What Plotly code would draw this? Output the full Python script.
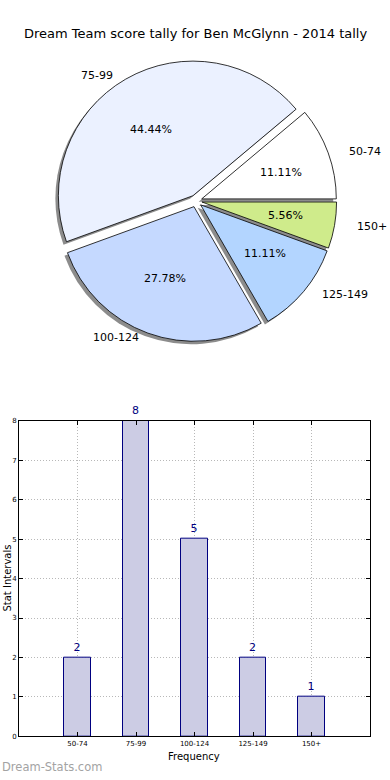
import math
import plotly.graph_objects as go

# ---- data ----
categories = ["50-74", "75-99", "100-124", "125-149", "150+"]
counts = [2, 8, 5, 2, 1]
pie_colors = ["#ffffff", "#ebf1ff", "#c5d9ff", "#b3d5ff", "#cfeb8b"]
title_text = "Dream Team score tally for Ben McGlynn - 2014 tally"

W, H = 390, 780
FONT = "DejaVu Sans"

# pie geometry (pixels)
cx, cy = 196, 199
R = 136
pull = 0.045
half = R * (1 + pull)

def px2paper(x, y):
    return x / W, 1 - y / H

dom_x = [(cx - half) / W, (cx + half) / W]
dom_y = [1 - (cy + half) / H, 1 - (cy - half) / H]

total = sum(counts)
# first slice spans 0deg -> its angle counterclockwise (matplotlib style);
# plotly rotation marks the counterclockwise edge of the first slice, clockwise from 12 o'clock
rot = 90 - 360 * counts[0] / total

fig = go.Figure()

# shadow pie
sdx, sdy = -3, 3
fig.add_trace(go.Pie(
    labels=categories, values=counts, sort=False, direction="counterclockwise",
    rotation=rot, pull=[pull] * len(counts), textinfo="none", hoverinfo="skip",
    marker=dict(colors=["#8c8c8c"] * len(counts), line=dict(width=0)),
    domain=dict(x=[dom_x[0] + sdx / W, dom_x[1] + sdx / W],
                y=[dom_y[0] - sdy / H, dom_y[1] - sdy / H]),
    showlegend=False,
))
# main pie
fig.add_trace(go.Pie(
    labels=categories, values=counts, sort=False, direction="counterclockwise",
    rotation=rot, pull=[pull] * len(counts), textinfo="none",
    marker=dict(colors=pie_colors, line=dict(color="#000000", width=0.8)),
    domain=dict(x=dom_x, y=dom_y), showlegend=False,
))

# pie text annotations (matplotlib-style placement)
cum = 0
rx, ry = 141, 128
annotations = []
for lab, v in zip(categories, counts):
    mid = math.radians(360 * (cum + v / 2) / total)
    cum += v
    c, s = math.cos(mid), math.sin(mid)
    ox, oy = cx + pull * R * c, cy - pull * R * s
    # percent
    px, py = ox + 0.6 * rx * c, oy - 0.6 * ry * s
    x, y = px2paper(px, py)
    annotations.append(dict(x=x, y=y, xref="paper", yref="paper", showarrow=False,
                            text=f"{100 * v / total:.2f}%", xanchor="center", yanchor="middle",
                            font=dict(family=FONT, size=11, color="#000")))
    # label
    lx, ly = ox + 1.1 * rx * c, oy - 1.1 * ry * s
    x, y = px2paper(lx, ly)
    annotations.append(dict(x=x, y=y, xref="paper", yref="paper", showarrow=False,
                            text=lab, xanchor="left" if c > 0 else "right", yanchor="middle",
                            font=dict(family=FONT, size=11, color="#000")))

# bar chart
fig.add_trace(go.Bar(
    x=list(range(len(categories))), y=counts, width=0.45,
    marker=dict(color="#ccccE4", line=dict(color="#000080", width=1)),
    text=[str(v) for v in counts], textposition="outside", cliponaxis=False,
    textfont=dict(family=FONT, size=11, color="#000080"),
    xaxis="x", yaxis="y", showlegend=False, hoverinfo="skip",
))

# title
annotations.append(dict(x=0.5, y=1 - 30 / H, xref="paper", yref="paper", showarrow=False,
                        text=title_text, xanchor="center", yanchor="middle",
                        font=dict(family=FONT, size=13, color="#000")))
# y title
annotations.append(dict(x=0, y=1 - 580 / H, xref="paper", yref="paper", showarrow=False,
                        text="Stat Intervals", textangle=-90, xanchor="left", yanchor="middle",
                        font=dict(family=FONT, size=10, color="#000")))
# x title
annotations.append(dict(x=194 / W, y=1 - 760 / H, xref="paper", yref="paper", showarrow=False,
                        text="Frequency", xanchor="center", yanchor="middle",
                        font=dict(family=FONT, size=10, color="#000")))
# watermark
annotations.append(dict(x=0, y=1 - 771 / H, xref="paper", yref="paper", showarrow=False,
                        text="Dream-Stats.com", xanchor="left", yanchor="middle",
                        font=dict(family=FONT, size=11.5, color="#a3a3a3")))

grid = dict(showgrid=True, gridcolor="#b8b8b8", griddash="1px,2px", gridwidth=1,
            showline=True, linecolor="#000", linewidth=1, mirror="allticks",
            ticks="inside", ticklen=4, tickcolor="#000", zeroline=False, fixedrange=True)

fig.update_layout(
    width=W, height=H, margin=dict(l=0, r=0, t=0, b=0),
    paper_bgcolor="white", plot_bgcolor="white",
    font=dict(family=FONT),
    annotations=annotations,
    bargap=0,
    xaxis=dict(domain=[19 / W, 370 / W], range=[-1, 5], tickmode="array",
               tickvals=list(range(len(categories))), ticktext=categories,
               tickfont=dict(family=FONT, size=7, color="#000"), **grid),
    yaxis=dict(domain=[1 - 740 / H, 1 - 421 / H], range=[0, 8], dtick=1,
               tickfont=dict(family=FONT, size=7, color="#000"), **grid),
)

fig.write_html("out.html", post_script="document.body.style.margin='0';",
               config={"displayModeBar": False})
